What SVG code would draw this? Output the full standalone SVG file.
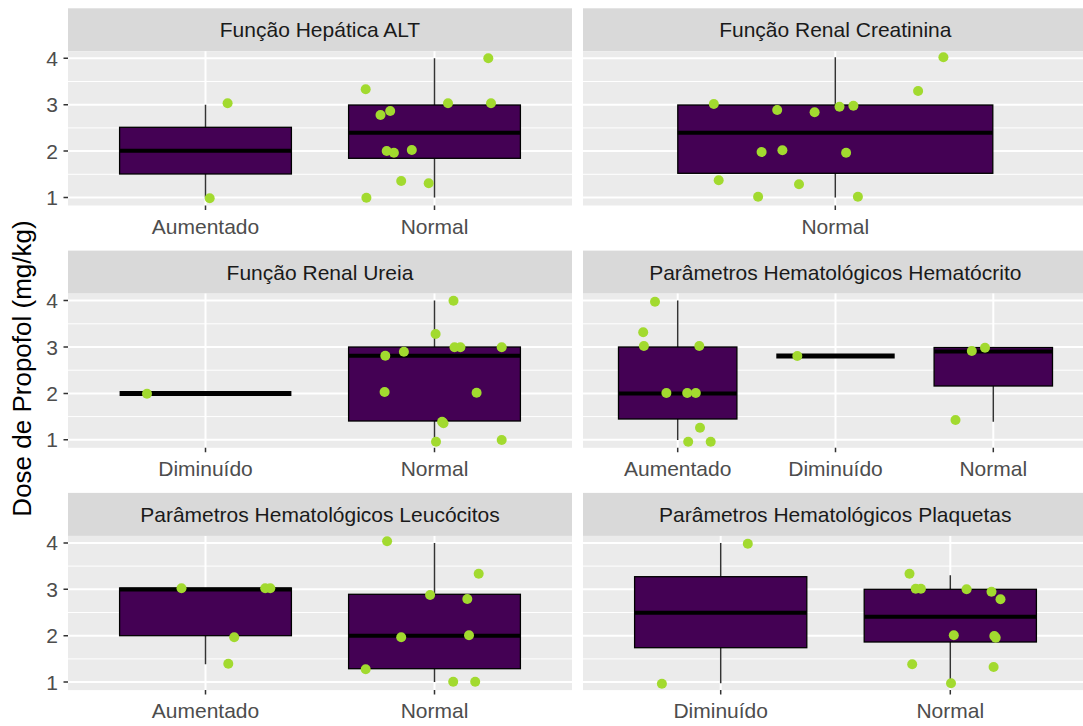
<svg xmlns="http://www.w3.org/2000/svg" width="1083" height="726" viewBox="0 0 1083 726">
<style>
text{font-family:"Liberation Sans",Arial,sans-serif}
.bg{fill:#EBEBEB}
.st{fill:#D9D9D9}
.gM{stroke:#fff;stroke-width:2;fill:none}
.gm{stroke:#fff;stroke-width:1;fill:none}
.bx{fill:#440154;stroke:#000;stroke-width:1.3}
.md{stroke:#000;stroke-width:4;fill:none}
.dg{stroke:#000;stroke-width:5;fill:none}
.wk{stroke:#333;stroke-width:1.5;fill:none}
.tk{stroke:#333;stroke-width:1.5;fill:none}
.pt{fill:#A2DA2F}
.sl{font-size:21px;fill:#1A1A1A;text-anchor:middle}
.xl{font-size:21px;fill:#4D4D4D;text-anchor:middle}
.yl{font-size:21px;fill:#4D4D4D;text-anchor:end}
.tt{font-size:26px;fill:#000;text-anchor:middle}
</style>
<rect width="1083" height="726" fill="#fff"/>

<g id="panel-hepatica-alt">
<rect class="st" x="68" y="8.3" width="504" height="43"/>
<text class="sl" x="320" y="37.3">Função Hepática ALT</text>
<rect class="bg" x="68" y="51.3" width="504" height="154.2"/>
<path class="gm" d="M68 81.5H572M68 127.9H572M68 174.3H572"/>
<path class="gM" d="M68 58.3H572M68 104.7H572M68 151.1H572M68 197.5H572M205.5 51.3V205.5M434.5 51.3V205.5"/>
<path class="wk" d="M205.5 104.7V127.3M205.5 174V197.5M434.5 58.3V105M434.5 158.3V197.5"/>
<rect class="bx" x="119.6" y="127.3" width="171.8" height="46.7"/>
<path class="md" d="M119.6 150.7H291.4"/>
<rect class="bx" x="348.6" y="105" width="171.8" height="53.3"/>
<path class="md" d="M348.6 132.7H520.4"/>
<g class="pt">
<circle cx="227.6" cy="103.3" r="5"/><circle cx="209.7" cy="198.3" r="5"/>
<circle cx="365.7" cy="89.3" r="5"/><circle cx="488.3" cy="58.3" r="5"/><circle cx="448" cy="103.3" r="5"/><circle cx="491" cy="103.3" r="5"/>
<circle cx="380.5" cy="115" r="5"/><circle cx="390.2" cy="111" r="5"/><circle cx="386.7" cy="151" r="5"/><circle cx="393.9" cy="152.7" r="5"/>
<circle cx="411.8" cy="150" r="5"/><circle cx="401.2" cy="181" r="5"/><circle cx="428.7" cy="183.3" r="5"/><circle cx="366.4" cy="197.7" r="5"/>
</g>
<path class="tk" d="M205.5 205.5v4.5M434.5 205.5v4.5M63.5 58.3H68M63.5 104.7H68M63.5 151.1H68M63.5 197.5H68"/>
<text class="xl" x="205.5" y="233.5">Aumentado</text>
<text class="xl" x="434.5" y="233.5">Normal</text>
<text class="yl" x="58" y="65.8">4</text><text class="yl" x="58" y="112.2">3</text><text class="yl" x="58" y="158.6">2</text><text class="yl" x="58" y="205">1</text>
</g>

<g id="panel-renal-creatinina">
<rect class="st" x="583" y="8.3" width="505" height="43"/>
<text class="sl" x="835.3" y="37.3">Função Renal Creatinina</text>
<rect class="bg" x="583" y="51.3" width="505" height="154.2"/>
<path class="gm" d="M583 81.5H1088M583 127.9H1088M583 174.3H1088"/>
<path class="gM" d="M583 58.3H1088M583 104.7H1088M583 151.1H1088M583 197.5H1088M835.3 51.3V205.5"/>
<path class="wk" d="M835.3 57.3V105M835.3 173.3V197.5"/>
<rect class="bx" x="677.8" y="105" width="315" height="68.3"/>
<path class="md" d="M677.8 132.7H992.8"/>
<g class="pt">
<circle cx="943.4" cy="57.3" r="5"/><circle cx="918.1" cy="91" r="5"/><circle cx="713.8" cy="104" r="5"/><circle cx="777.2" cy="110" r="5"/>
<circle cx="814.6" cy="112.3" r="5"/><circle cx="839.5" cy="106.7" r="5"/><circle cx="853.4" cy="105.7" r="5"/><circle cx="761.6" cy="152" r="5"/>
<circle cx="782.4" cy="150.3" r="5"/><circle cx="846.1" cy="152.7" r="5"/><circle cx="718.7" cy="180.3" r="5"/><circle cx="799" cy="184.3" r="5"/>
<circle cx="758.1" cy="196.7" r="5"/><circle cx="857.9" cy="196.7" r="5"/>
</g>
<path class="tk" d="M835.3 205.5v4.5"/>
<text class="xl" x="835.3" y="233.5">Normal</text>
</g>

<g id="panel-renal-ureia">
<rect class="st" x="68" y="250.6" width="504" height="43"/>
<text class="sl" x="320" y="279.6">Função Renal Ureia</text>
<rect class="bg" x="68" y="293.6" width="504" height="154.2"/>
<path class="gm" d="M68 323.8H572M68 370.2H572M68 416.6H572"/>
<path class="gM" d="M68 300.6H572M68 347H572M68 393.4H572M68 439.8H572M205.5 293.6V447.8M434.5 293.6V447.8"/>
<path class="dg" d="M119.6 393.4H291.4"/>
<path class="wk" d="M434.5 300.6V347M434.5 421V440.5"/>
<rect class="bx" x="348.6" y="347" width="171.8" height="74"/>
<path class="md" d="M348.6 355.7H520.4"/>
<g class="pt">
<circle cx="147" cy="393.7" r="5"/>
<circle cx="453.5" cy="300.7" r="5"/><circle cx="435.6" cy="334" r="5"/><circle cx="385.3" cy="355.7" r="5"/><circle cx="403.9" cy="351.7" r="5"/>
<circle cx="454.5" cy="347.3" r="5"/><circle cx="460.4" cy="347.3" r="5"/><circle cx="501.7" cy="347.3" r="5"/><circle cx="384.6" cy="392" r="5"/>
<circle cx="476.6" cy="392.7" r="5"/><circle cx="443.5" cy="423.3" r="5"/><circle cx="442.1" cy="421.7" r="5"/><circle cx="436" cy="441.7" r="5"/>
<circle cx="501.7" cy="440" r="5"/>
</g>
<path class="tk" d="M205.5 447.8v4.5M434.5 447.8v4.5M63.5 300.6H68M63.5 347H68M63.5 393.4H68M63.5 439.8H68"/>
<text class="xl" x="205.5" y="475.8">Diminuído</text>
<text class="xl" x="434.5" y="475.8">Normal</text>
<text class="yl" x="58" y="308.1">4</text><text class="yl" x="58" y="354.5">3</text><text class="yl" x="58" y="400.9">2</text><text class="yl" x="58" y="447.3">1</text>
</g>

<g id="panel-hematocrito">
<rect class="st" x="583" y="250.6" width="505" height="43"/>
<text class="sl" x="835.3" y="279.6">Parâmetros Hematológicos Hematócrito</text>
<rect class="bg" x="583" y="293.6" width="505" height="154.2"/>
<path class="gm" d="M583 323.8H1088M583 370.2H1088M583 416.6H1088"/>
<path class="gM" d="M583 300.6H1088M583 347H1088M583 393.4H1088M583 439.8H1088M677.7 293.6V447.8M835.5 293.6V447.8M993.3 293.6V447.8"/>
<path class="wk" d="M677.7 300.6V347M677.7 419V440M993.3 386V421.7"/>
<rect class="bx" x="618.5" y="347" width="118.4" height="72"/>
<path class="md" d="M618.5 393.4H736.9"/>
<path class="dg" d="M776.3 356H894.7"/>
<rect class="bx" x="934.1" y="347.5" width="118.4" height="38.5"/>
<path class="md" d="M934.1 351.5H1052.5"/>
<g class="pt">
<circle cx="655" cy="301.7" r="5"/><circle cx="643.2" cy="332.3" r="5"/><circle cx="643.9" cy="346" r="5"/><circle cx="699.3" cy="346" r="5"/>
<circle cx="666.4" cy="393" r="5"/><circle cx="687.2" cy="393" r="5"/><circle cx="695.8" cy="393" r="5"/><circle cx="700" cy="427.7" r="5"/>
<circle cx="688.2" cy="441.7" r="5"/><circle cx="710.7" cy="441.7" r="5"/>
<circle cx="797.3" cy="356" r="5"/>
<circle cx="971.8" cy="351" r="5"/><circle cx="985" cy="347.7" r="5"/><circle cx="955.5" cy="420" r="5"/>
</g>
<path class="tk" d="M677.7 447.8v4.5M835.5 447.8v4.5M993.3 447.8v4.5"/>
<text class="xl" x="677.7" y="475.8">Aumentado</text>
<text class="xl" x="835.5" y="475.8">Diminuído</text>
<text class="xl" x="993.3" y="475.8">Normal</text>
</g>

<g id="panel-leucocitos">
<rect class="st" x="68" y="492.9" width="504" height="43"/>
<text class="sl" x="320" y="521.9">Parâmetros Hematológicos Leucócitos</text>
<rect class="bg" x="68" y="535.9" width="504" height="154.2"/>
<path class="gm" d="M68 566.1H572M68 612.5H572M68 658.9H572"/>
<path class="gM" d="M68 542.9H572M68 589.3H572M68 635.7H572M68 682.1H572M205.5 535.9V690.1M434.5 535.9V690.1"/>
<path class="wk" d="M205.5 635.7V664.3M434.5 542.9V594.3M434.5 668.7V682.1"/>
<rect class="bx" x="119.6" y="588" width="171.8" height="47.7"/>
<path class="md" d="M119.6 589.5H291.4"/>
<rect class="bx" x="348.6" y="594.3" width="171.8" height="74.4"/>
<path class="md" d="M348.6 635.7H520.4"/>
<g class="pt">
<circle cx="181.5" cy="588.3" r="5"/><circle cx="265.2" cy="588.3" r="5"/><circle cx="270.3" cy="588.3" r="5"/><circle cx="234.2" cy="637.3" r="5"/>
<circle cx="228.3" cy="663.7" r="5"/>
<circle cx="387.1" cy="541.3" r="5"/><circle cx="478.7" cy="573.7" r="5"/><circle cx="430.1" cy="595" r="5"/><circle cx="467.3" cy="599" r="5"/>
<circle cx="401.2" cy="637.3" r="5"/><circle cx="469" cy="635.3" r="5"/><circle cx="365.7" cy="669.3" r="5"/><circle cx="453.2" cy="681.7" r="5"/>
<circle cx="475.2" cy="681.7" r="5"/>
</g>
<path class="tk" d="M205.5 690.1v4.5M434.5 690.1v4.5M63.5 542.9H68M63.5 589.3H68M63.5 635.7H68M63.5 682.1H68"/>
<text class="xl" x="205.5" y="718.1">Aumentado</text>
<text class="xl" x="434.5" y="718.1">Normal</text>
<text class="yl" x="58" y="550.4">4</text><text class="yl" x="58" y="596.8">3</text><text class="yl" x="58" y="643.2">2</text><text class="yl" x="58" y="689.6">1</text>
</g>

<g id="panel-plaquetas">
<rect class="st" x="583" y="492.9" width="505" height="43"/>
<text class="sl" x="835.3" y="521.9">Parâmetros Hematológicos Plaquetas</text>
<rect class="bg" x="583" y="535.9" width="505" height="154.2"/>
<path class="gm" d="M583 566.1H1088M583 612.5H1088M583 658.9H1088"/>
<path class="gM" d="M583 542.9H1088M583 589.3H1088M583 635.7H1088M583 682.1H1088M720.7 535.9V690.1M950.3 535.9V690.1"/>
<path class="wk" d="M720.7 542.9V576.7M720.7 647.7V683.3M950.3 575.3V589.3M950.3 642V682.7"/>
<rect class="bx" x="634.6" y="576.7" width="172.2" height="71"/>
<path class="md" d="M634.6 612.7H806.8"/>
<rect class="bx" x="864.2" y="589.3" width="172.2" height="52.7"/>
<path class="md" d="M864.2 616.7H1036.4"/>
<g class="pt">
<circle cx="747.8" cy="543.7" r="5"/><circle cx="661.9" cy="683.7" r="5"/>
<circle cx="909.5" cy="573.7" r="5"/><circle cx="915.7" cy="588.7" r="5"/><circle cx="920.9" cy="588.7" r="5"/><circle cx="966.6" cy="589.3" r="5"/>
<circle cx="991.5" cy="591.7" r="5"/><circle cx="1000.5" cy="599.3" r="5"/><circle cx="953.8" cy="635.3" r="5"/><circle cx="994.3" cy="636" r="5"/>
<circle cx="995.7" cy="637.7" r="5"/><circle cx="912.2" cy="664.3" r="5"/><circle cx="993.6" cy="667" r="5"/><circle cx="951" cy="683.3" r="5"/>
</g>
<path class="tk" d="M720.7 690.1v4.5M950.3 690.1v4.5"/>
<text class="xl" x="720.7" y="718.1">Diminuído</text>
<text class="xl" x="950.3" y="718.1">Normal</text>
</g>

<g id="connectors"></g>

<text class="tt" transform="translate(31,368.5) rotate(-90)">Dose de Propofol (mg/kg)</text>
</svg>
